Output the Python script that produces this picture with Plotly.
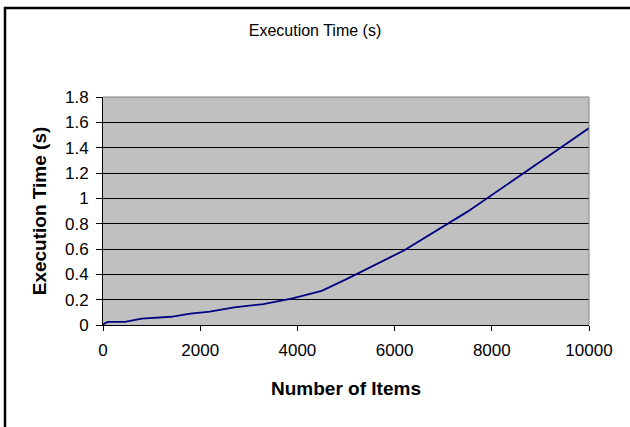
import plotly.graph_objects as go

items = [0, 100, 450, 800, 1400, 1800, 2200, 2700, 3300, 3900, 4500, 5000, 6200, 7500, 9400, 10000]
exec_time = [0.005, 0.024, 0.024, 0.05, 0.065, 0.09, 0.105, 0.14, 0.165, 0.21, 0.27, 0.36, 0.59, 0.895, 1.395, 1.555]

x_ticks = [0, 2000, 4000, 6000, 8000, 10000]
x_ticktext = ["0", "2000", "4000", "6000", "8000", "10000"]
y_ticks = [0, 0.2, 0.4, 0.6, 0.8, 1, 1.2, 1.4, 1.6, 1.8]
y_ticktext = ["0", "0.2", "0.4", "0.6", "0.8", "1", "1.2", "1.4", "1.6", "1.8"]

title_text = "Execution Time (s)"
x_title = "Number of Items"
y_title = "Execution Time (s)"

FONT = "Arial, 'Liberation Sans', sans-serif"

fig = go.Figure()
fig.add_trace(go.Scatter(x=items, y=exec_time, mode="lines",
                         line=dict(color="#000080", width=1.8),
                         showlegend=False, hoverinfo="skip"))

L, R, T, B = 103, 41, 97, 102
W, H = 630, 427
pw, ph = W - L - R, H - T - B

def px2x(px):
    return (px - L) / pw

def px2y(py):
    return (H - B - py) / ph

fig.update_layout(
    width=W, height=H,
    margin=dict(l=L, r=R, t=T, b=B, pad=0),
    paper_bgcolor="white",
    plot_bgcolor="#C0C0C0",
    font=dict(family=FONT, color="black", size=17),
    title=dict(text=title_text, x=0.5, xanchor="center", y=1 - 30 / H, yanchor="middle",
               font=dict(family=FONT, size=16, color="black")),
    xaxis=dict(range=[0, 10000], tickmode="array", tickvals=x_ticks, ticktext=x_ticktext,
               ticks="outside", ticklen=5, tickcolor="black", tickwidth=1,
               ticklabelstandoff=5,
               showline=True, linecolor="black", linewidth=1,
               showgrid=False, zeroline=False,
               tickfont=dict(size=17),
               title=dict(text="<b>" + x_title + "</b>", font=dict(size=19), standoff=22)),
    yaxis=dict(range=[0, 1.8], tickmode="array", tickvals=y_ticks, ticktext=y_ticktext,
               ticks="outside", ticklen=6, tickcolor="black", tickwidth=1,
               ticklabelstandoff=4,
               showline=True, linecolor="black", linewidth=1,
               showgrid=True, gridcolor="black", gridwidth=1, zeroline=False,
               tickfont=dict(size=17),
               title=dict(text="<b>" + y_title + "</b>", font=dict(size=19), standoff=13)),
    shapes=[
        dict(type="line", xref="paper", yref="paper", x0=0, x1=1, y0=1, y1=1,
             line=dict(color="#808080", width=1), layer="above"),
        dict(type="line", xref="paper", yref="paper", x0=1, x1=1, y0=0, y1=1,
             line=dict(color="#808080", width=1), layer="above"),
        dict(type="rect", xref="paper", yref="paper",
             x0=px2x(5), x1=px2x(660), y0=px2y(460), y1=px2y(8),
             line=dict(color="black", width=2.5), fillcolor="rgba(0,0,0,0)", layer="above"),
    ],
)

fig.write_html("out.html", config={"displayModeBar": False},
               post_script="document.body.style.margin='0';document.body.style.overflow='hidden';")
